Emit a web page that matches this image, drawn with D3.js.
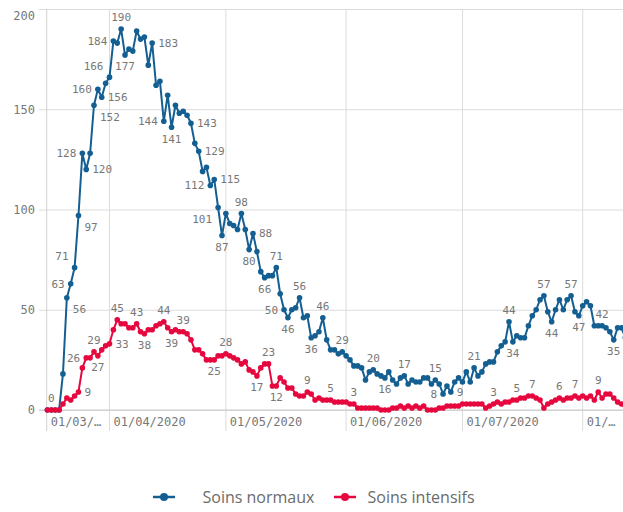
<!DOCTYPE html>
<html>
<head>
<meta charset="utf-8">
<script src="https://cdn.jsdelivr.net/npm/d3@7"></script>
<style>
  html, body { margin: 0; padding: 0; background: #fff; }
  svg { display: block; }
  .num { font-family: "DejaVu Sans Mono", monospace; fill: #777; }
</style>
</head>
<body>
<svg id="chart" width="623" height="512"></svg>
<script>
/* ---------- Data ---------- */
const START_DATE = "2020-03-16";

const blueMar = [0, 0, 0, 0, 18, 56, 63, 71, 97, 128, 120, 128, 152, 160, 156, 163];
const blueApr = [166, 184, 183, 190, 177, 180, 179, 189, 185, 186, 172, 183, 162, 164, 144,
  157, 141, 152, 148, 149, 147, 143, 133, 129, 119, 121, 112, 115, 101, 87];
const blueMay = [98, 93, 92, 90, 98, 90, 80, 88, 79, 69, 66, 67, 67, 71, 58, 50, 46, 50, 51,
  56, 46, 47, 36, 37, 39, 46, 35, 30, 30, 28, 29];
const blueJun = [27, 25, 22, 22, 21, 15, 19, 20, 18, 17, 16, 19, 15, 13, 16, 17, 13, 15, 14,
  14, 16, 16, 13, 15, 13, 8, 12, 9, 14, 16];
const blueJul = [14, 19, 14, 21, 17, 19, 23, 24, 24, 29, 32, 34, 44, 34, 37, 36, 36, 42, 47,
  50, 55, 57, 49, 44, 50, 55, 50, 55, 57, 49, 47];
const blueAug = [52, 54, 52, 42, 42, 42, 41, 39, 35, 41, 41, 36];

const redMar = [0, 0, 0, 0, 3, 6, 5, 7, 9, 21, 26, 26, 29, 27, 30, 32];
const redApr = [33, 40, 45, 43, 43, 41, 41, 43, 39, 38, 40, 40, 42, 43, 44, 41, 39, 40, 39,
  39, 38, 35, 30, 30, 28, 25, 25, 25, 27, 27];
const redMay = [28, 27, 26, 25, 23, 24, 20, 19, 17, 21, 23, 23, 12, 12, 16, 14, 11, 11, 8, 7,
  7, 9, 8, 5, 6, 5, 5, 5, 4, 4, 4];
const redJun = [4, 3, 3, 1, 1, 1, 1, 1, 1, 0, 0, 0, 1, 1, 2, 1, 2, 1, 2, 1, 2, 0, 0, 0, 1, 1,
  2, 2, 2, 2];
const redJul = [3, 3, 3, 3, 3, 3, 1, 2, 3, 4, 3, 4, 4, 5, 5, 6, 6, 7, 7, 6, 5, 1, 3, 4, 5, 6,
  5, 6, 6, 7, 6];
const redAug = [7, 6, 7, 5, 9, 6, 8, 8, 6, 4, 3, 2];

const normalValues = [].concat(blueMar, blueApr, blueMay, blueJun, blueJul, blueAug);
const icuValues = [].concat(redMar, redApr, redMay, redJun, redJul, redAug);

const SERIES_NAMES = ["Soins normaux", "Soins intensifs"];
const SERIES_COLORS = ["#145f92", "#e5073d"];

const Y_TICKS = [0, 50, 100, 150, 200];
const X_LABELS = ["01/03/…", "01/04/2020", "01/05/2020", "01/06/2020", "01/07/2020", "01/…"];

// value labels: [date, side]
const normalLabels = [
  ["2020-03-17", "t"], ["2020-03-21", "rb"], ["2020-03-22", "l"], ["2020-03-23", "lt"],
  ["2020-03-24", "rb"], ["2020-03-25", "l"], ["2020-03-26", "r"], ["2020-03-28", "rb"],
  ["2020-03-29", "l"], ["2020-03-30", "r"], ["2020-04-01", "lt"], ["2020-04-02", "l"],
  ["2020-04-04", "t"], ["2020-04-05", "b"], ["2020-04-12", "r"], ["2020-04-15", "l"],
  ["2020-04-17", "b"], ["2020-04-22", "r"], ["2020-04-24", "r"], ["2020-04-27", "l"],
  ["2020-04-28", "r"], ["2020-04-29", "lb"], ["2020-04-30", "b"], ["2020-05-05", "t"],
  ["2020-05-07", "b"], ["2020-05-08", "r"], ["2020-05-11", "b"], ["2020-05-14", "t"],
  ["2020-05-16", "l"], ["2020-05-17", "b"], ["2020-05-20", "t"], ["2020-05-23", "b"],
  ["2020-05-26", "t"], ["2020-05-31", "t"], ["2020-06-08", "t"], ["2020-06-11", "b"],
  ["2020-06-16", "t"], ["2020-06-24", "t"], ["2020-06-26", "l"], ["2020-06-28", "r"],
  ["2020-07-04", "t"], ["2020-07-13", "t"], ["2020-07-14", "b"], ["2020-07-22", "t"],
  ["2020-07-24", "b"], ["2020-07-29", "t"], ["2020-07-31", "b"], ["2020-08-06", "t"],
  ["2020-08-09", "b"]
];
const icuLabels = [
  ["2020-03-24", "r"], ["2020-03-26", "l"], ["2020-03-28", "t"], ["2020-03-29", "b"],
  ["2020-04-01", "r"], ["2020-04-03", "t"], ["2020-04-08", "t"], ["2020-04-10", "b"],
  ["2020-04-15", "t"], ["2020-04-17", "b"], ["2020-04-20", "t"], ["2020-04-28", "b"],
  ["2020-05-01", "t"], ["2020-05-09", "b"], ["2020-05-12", "t"], ["2020-05-14", "b"],
  ["2020-05-22", "t"], ["2020-05-28", "t"], ["2020-06-03", "t"], ["2020-07-09", "t"],
  ["2020-07-15", "t"], ["2020-07-19", "t"], ["2020-07-26", "t"], ["2020-07-30", "t"],
  ["2020-08-05", "t"]
];

/* ---------- Layout ---------- */
const W = 623, H = 512;
const plot = { left: 46.7, right: 623, top: 9, bottom: 410 };

const parse = d3.utcParse("%Y-%m-%d");
const start = parse(START_DATE);
const dates = d3.utcDay.range(start, d3.utcDay.offset(start, normalValues.length));

const x = d3.scaleUtc()
  .domain([Date.UTC(2020, 3, 1), Date.UTC(2020, 7, 1)])
  .range([109.5, 582.7]);
const y = d3.scaleLinear().domain([0, 200]).range([plot.bottom, plot.top]);

const svg = d3.select("#chart");

svg.append("defs").append("clipPath").attr("id", "plot-clip")
  .append("rect")
  .attr("x", plot.left - 4).attr("y", 0)
  .attr("width", plot.right - plot.left + 4).attr("height", plot.bottom + 6);

/* ---------- Grid + axes ---------- */
const gY = svg.append("g")
  .attr("transform", `translate(39,0)`)
  .call(d3.axisLeft(y).tickValues(Y_TICKS).tickSize(-(plot.right - 39)).tickPadding(4));
gY.select(".domain").remove();
gY.selectAll("line").attr("stroke", "#dcdcdc");
gY.selectAll("text")
  .attr("class", "num")
  .style("font-size", "12px")
  .attr("dy", d => d === 200 ? "0.85em" : "0.32em");

const monthTicks = d3.utcMonth.range(Date.UTC(2020, 3, 1), Date.UTC(2020, 7, 2));
svg.append("g").selectAll("line")
  .data(monthTicks)
  .join("line")
  .attr("x1", d => x(d)).attr("x2", d => x(d))
  .attr("y1", plot.top).attr("y2", 431)
  .attr("stroke", "#dcdcdc");

// left axis line
svg.append("line")
  .attr("x1", plot.left).attr("x2", plot.left)
  .attr("y1", plot.top).attr("y2", 431)
  .attr("stroke", "#d0d0d0");
// bottom axis line
svg.append("line")
  .attr("x1", 39).attr("x2", plot.right)
  .attr("y1", plot.bottom).attr("y2", plot.bottom)
  .attr("stroke", "#c8c8c8");

const labelXs = [plot.left].concat(monthTicks.map(d => x(d)));
svg.append("g").selectAll("text")
  .data(X_LABELS)
  .join("text")
  .attr("class", "num")
  .style("font-size", "12px")
  .attr("x", (d, i) => labelXs[i] + 4)
  .attr("y", 421.5)
  .attr("dy", "0.35em")
  .text(d => d);

/* ---------- Lines ---------- */
const series = [normalValues, icuValues].map((vals, i) => ({
  name: SERIES_NAMES[i],
  color: SERIES_COLORS[i],
  points: vals.map((v, j) => ({ date: dates[j], value: v }))
}));

const line = d3.line().x(d => x(d.date)).y(d => y(d.value));
const gLines = svg.append("g").attr("clip-path", "url(#plot-clip)");

series.forEach(s => {
  gLines.append("path")
    .datum(s.points)
    .attr("fill", "none")
    .attr("stroke", s.color)
    .attr("stroke-width", 2)
    .attr("stroke-linejoin", "round")
    .attr("d", line);
  gLines.append("g").selectAll("circle")
    .data(s.points)
    .join("circle")
    .attr("cx", d => x(d.date))
    .attr("cy", d => y(d.value))
    .attr("r", 2.8)
    .attr("fill", s.color);
});

/* ---------- Value labels ---------- */
const fmt = d3.utcFormat("%Y-%m-%d");
function drawLabels(s, list) {
  const byDate = new Map(s.points.map(p => [fmt(p.date), p]));
  const g = svg.append("g");
  for (const [ds, side] of list) {
    const p = byDate.get(ds);
    if (!p) continue;
    const px = x(p.date), py = y(p.value);
    let tx = px, ty = py, anchor = "middle";
    if (side.includes("t")) ty = py - 11.5;
    if (side.includes("b")) ty = py + 11.5;
    if (side.includes("l")) { tx = px - 6; anchor = "end"; }
    if (side.includes("r")) { tx = px + 6; anchor = "start"; }
    g.append("text")
      .attr("class", "num")
      .style("font-size", "11px")
      .attr("x", tx).attr("y", ty)
      .attr("dy", "0.35em")
      .attr("text-anchor", anchor)
      .text(p.value);
  }
}
drawLabels(series[0], normalLabels);
drawLabels(series[1], icuLabels);

/* ---------- Legend ---------- */
const legendPos = [{ mx: 153, tx: 202.5 }, { mx: 334, tx: 367.5 }];
series.forEach((s, i) => {
  const g = svg.append("g").attr("transform", `translate(${legendPos[i].mx},497)`);
  g.append("line").attr("x1", 0).attr("x2", 22).attr("y1", 0).attr("y2", 0)
    .attr("stroke", s.color).attr("stroke-width", 2.5);
  g.append("circle").attr("cx", 11).attr("cy", 0).attr("r", 4).attr("fill", s.color);
  svg.append("text")
    .attr("x", legendPos[i].tx).attr("y", 497)
    .attr("dy", "0.35em")
    .style("font-family", "'Open Sans', sans-serif")
    .style("font-size", "16px")
    .style("fill", "#6b6b6b")
    .text(s.name);
});
</script>
</body>
</html>
